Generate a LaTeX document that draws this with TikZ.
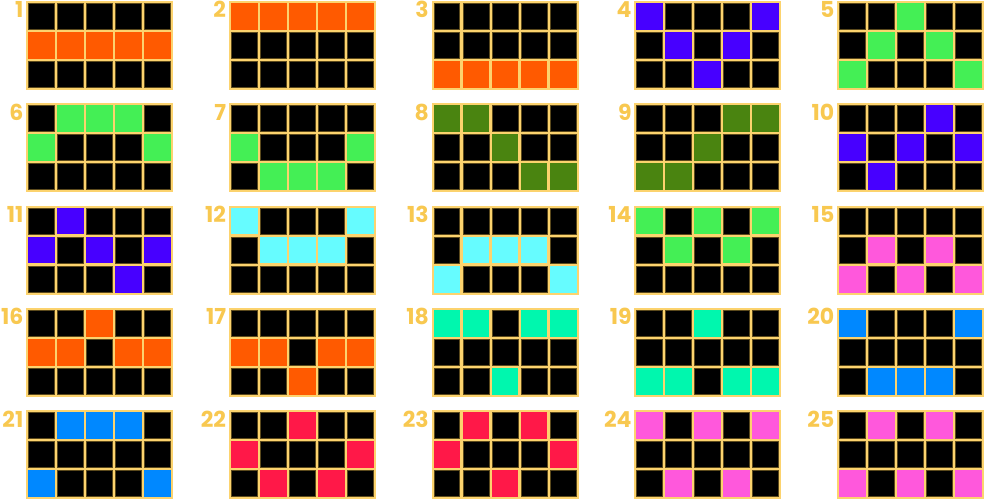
\documentclass[tikz,border=0pt]{standalone}
\usepackage{fontspec}
\newfontfamily\numfont{Poppins}
\definecolor{gold}{HTML}{FCD36E}
\definecolor{celledge}{HTML}{5C4A1C}
\definecolor{numgold}{HTML}{F8C850}
\definecolor{pOrange}{HTML}{FF5A00}
\definecolor{pPurple}{HTML}{4700FF}
\definecolor{pGreen}{HTML}{44EF55}
\definecolor{pOlive}{HTML}{4A8410}
\definecolor{pCyan}{HTML}{66FCFF}
\definecolor{pPink}{HTML}{FF58DC}
\definecolor{pTeal}{HTML}{00F7AE}
\definecolor{pBlue}{HTML}{0088FF}
\definecolor{pRed}{HTML}{FF1848}
\tikzset{
  frame/.style={fill=gold, draw=none, minimum width=147pt, minimum height=89pt, inner sep=0pt, outer sep=0pt, anchor=north west},
  hitcell/.style={draw=none, minimum width=26.76pt, minimum height=26.8pt, inner sep=0pt, outer sep=0pt},
  blankcell/.style={fill=black, draw=celledge, line width=0.8pt, minimum width=25.96pt, minimum height=26pt, inner sep=0pt, outer sep=0pt},
  numlabel/.style={font=\numfont\bfseries\fontsize{22}{22}\selectfont, text=numgold, anchor=base east, inner sep=0pt}
}
\begin{document}
\begin{tikzpicture}[x=1pt,y=-1pt]
\useasboundingbox (0,0) rectangle (985,500);
\foreach \k/\pa/\pb/\pc/\pd/\pe/\col in {
 1/2/2/2/2/2/pOrange, 2/1/1/1/1/1/pOrange, 3/3/3/3/3/3/pOrange, 4/1/2/3/2/1/pPurple, 5/3/2/1/2/3/pGreen,
 6/2/1/1/1/2/pGreen, 7/2/3/3/3/2/pGreen, 8/1/1/2/3/3/pOlive, 9/3/3/2/1/1/pOlive, 10/2/3/2/1/2/pPurple,
 11/2/1/2/3/2/pPurple, 12/1/2/2/2/1/pCyan, 13/3/2/2/2/3/pCyan, 14/1/2/1/2/1/pGreen, 15/3/2/3/2/3/pPink,
 16/2/2/1/2/2/pOrange, 17/2/2/3/2/2/pOrange, 18/1/1/3/1/1/pTeal, 19/3/3/1/3/3/pTeal, 20/1/3/3/3/1/pBlue,
 21/3/1/1/1/3/pBlue, 22/2/3/1/3/2/pRed, 23/2/1/3/1/2/pRed, 24/1/3/1/3/1/pPink, 25/3/1/3/1/3/pPink}{
  \pgfmathtruncatemacro\cc{mod(\k-1,5)}
  \pgfmathtruncatemacro\rr{div(\k-1,5)}
  \pgfmathsetmacro\xl{26+202.75*\cc}
  \pgfmathsetmacro\yt{1+102.25*\rr}
  \node[frame] (f\k) at (\xl,\yt) {};
  \node[numlabel] (n\k) at (\xl-2.5,\yt+17) {\k};
  \foreach \rw [count=\ii from 0] in {\pa,\pb,\pc,\pd,\pe}{
    \foreach \jj in {1,2,3}{
      \pgfmathsetmacro\cx{\xl+2+\ii*(26.76+2.3)+13.38}
      \pgfmathsetmacro\cy{\yt+2+(\jj-1)*(26.8+2.3)+13.4}
      \ifnum\jj=\rw
        \node[hitcell, fill=\col] (c\k-\ii-\jj) at (\cx,\cy) {};
      \else
        \node[blankcell] (c\k-\ii-\jj) at (\cx,\cy) {};
      \fi
    }
  }
}
\end{tikzpicture}
\end{document}
